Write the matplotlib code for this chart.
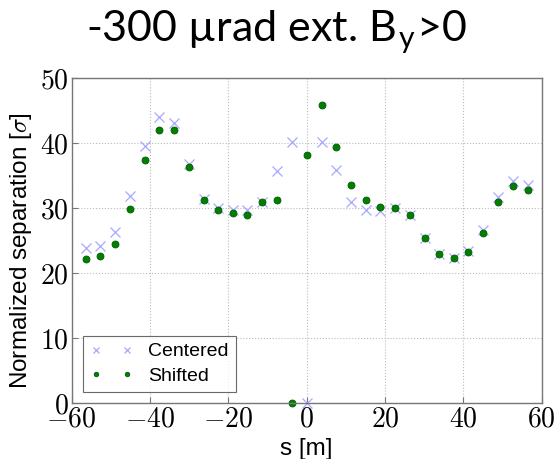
import numpy as np
import matplotlib
matplotlib.use('Agg')
import matplotlib.pyplot as plt
from matplotlib.ticker import FuncFormatter

plt.rcParams['mathtext.fontset'] = 'cm'
plt.rcParams['font.family'] = ['Liberation Sans', 'DejaVu Sans']

# beam position along the ring [m]
s = [-56.4, -52.7, -48.9, -45.1, -41.3, -37.6, -33.9, -30.1, -26.3, -22.6,
     -18.8, -15.1, -11.3, -7.6, -3.8, 0.0, 3.8, 7.6, 11.3, 15.1,
     18.8, 22.6, 26.3, 30.1, 33.9, 37.6, 41.3, 45.1, 48.9, 52.7, 56.4]

# normalized separation [sigma]
centered = [23.85, 24.25, 26.3, 31.9, 39.6, 44.1, 43.2, 36.8, 31.4, 30.1,
            29.8, 29.7, 30.9, 35.8, 40.25, 0.0, 40.25, 35.85, 30.9, 29.75,
            29.65, 30.1, 28.9, 25.5, 22.9, 22.4, 23.4, 26.65, 31.7, 34.25, 33.6]
shifted = [22.15, 22.6, 24.55, 29.85, 37.4, 42.1, 42.05, 36.35, 31.3, 29.8,
           29.3, 28.9, 30.9, 31.3, 0.0, 38.25, 45.85, 39.4, 33.6, 31.3,
           30.25, 30.05, 28.9, 25.5, 22.9, 22.35, 23.2, 26.2, 31.0, 33.4, 32.8]

fig = plt.figure(figsize=(5.55, 4.59), dpi=100)
ax = fig.add_axes([0.129, 0.1214, 0.847, 0.708])

ax.plot(s, centered, 'x', color='#a8a8ff', ms=7.5, mew=0.9, label='Centered', clip_on=False)
ax.plot(s, shifted, 'o', color='#007f00', mec='#005a00', ms=5, mew=0.6, label='Shifted', clip_on=False)

ax.set_xlim(-60, 60)
ax.set_ylim(0, 50)
ax.set_xticks([-60, -40, -20, 0, 20, 40, 60])
ax.set_yticks([0, 10, 20, 30, 40, 50])
ax.xaxis.set_major_formatter(FuncFormatter(lambda v, p: r'$%d$' % v))
ax.yaxis.set_major_formatter(FuncFormatter(lambda v, p: r'$%d$' % v))
ax.tick_params(labelsize=20, direction='in', length=4, color='#777777', pad=2)
ax.grid(True, ls=':', color='#bbbbbb', lw=0.8)
for sp in ax.spines.values():
    sp.set_color('#777777')
    sp.set_linewidth(1.0)

ax.set_xlabel('s [m]', fontsize=17.5, labelpad=4)
ax.set_ylabel(r'Normalized separation [$\sigma$]', fontsize=17.5)
ax.yaxis.set_label_coords(-0.08, 0.47)

leg = ax.legend(loc='lower left', numpoints=2, markerscale=0.65, fontsize=14,
                fancybox=False, borderaxespad=0.6, handlelength=2.2,
                handletextpad=0.8, labelspacing=0.35, borderpad=0.35)
leg.get_frame().set_edgecolor('#444444')
leg.get_frame().set_linewidth(0.8)

fig.text(0.499, 0.9085, '-300 \u00b5rad ext. B$_\\mathregular{y}$>0', ha='center', va='baseline',
         fontsize=31, family=['Lato', 'DejaVu Sans'])

fig.savefig('out.png', dpi=100)
